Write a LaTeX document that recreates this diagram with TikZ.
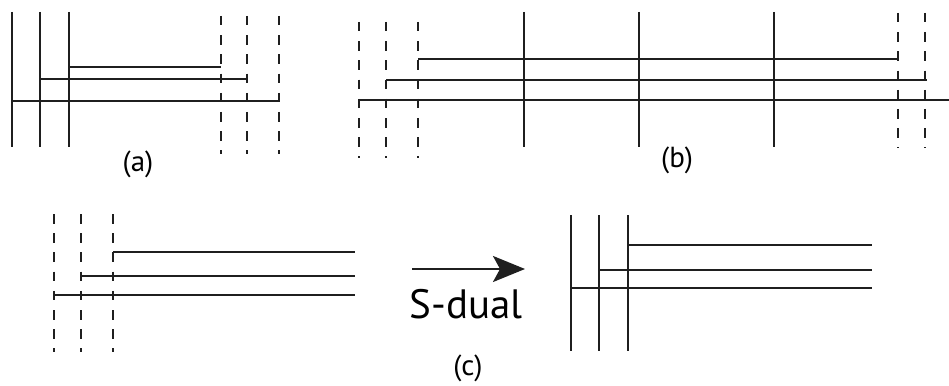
\documentclass[tikz,border=0pt]{standalone}
\usepackage{fontspec}
\setmainfont{PT Sans}
\usetikzlibrary{arrows.meta}
\begin{document}
\begin{tikzpicture}[x=1pt,y=-1pt,
  brane/.style={line width=2pt,black!88},
  dbrane/.style={line width=2pt,black!88,dash pattern=on 9.5pt off 9.7pt},
  lbl/.style={font=\fontsize{29}{32}\selectfont,inner sep=0pt}]
\useasboundingbox (0,0) rectangle (949,385);
% ---------- (a)
\foreach \x in {12,40,69} \draw[brane] (\x,12) -- (\x,147);
\foreach \x in {221,247,279} \draw[dbrane] (\x,16) -- (\x,154);
\draw[brane] (69,67) -- (221,67);
\draw[brane] (40,79) -- (247,79);
\draw[brane] (12,101) -- (279,101);
\node[lbl] (la) at (138,164) {(a)};
% ---------- (b)
\foreach \x in {359,386,418} \draw[dbrane] (\x,22) -- (\x,158);
\foreach \x in {524,639,774} \draw[brane] (\x,12) -- (\x,147);
\foreach \x in {898,925} \draw[dbrane] (\x,13) -- (\x,148);
\draw[brane] (418,59) -- (898,59);
\draw[brane] (386,80) -- (927,80);
\draw[brane] (359,100) -- (949,100);
\node[lbl] (lb) at (677,160) {(b)};
% ---------- (c) left
\foreach \x in {54,81,113} \draw[dbrane] (\x,214) -- (\x,352);
\draw[brane] (113,252) -- (355,252);
\draw[brane] (81,276) -- (355,276);
\draw[brane] (54,295) -- (355,295);
% ---------- (c) right
\foreach \x in {571,599,628} \draw[brane] (\x,215) -- (\x,351);
\draw[brane] (628,245) -- (872,245);
\draw[brane] (599,270) -- (872,270);
\draw[brane] (571,288) -- (872,288);
% ---------- arrow
\coordinate (as) at (412,269);
\coordinate (ae) at (525,269);
\draw[line width=2.3pt,black!88,-{Stealth[length=32pt,width=26pt,inset=7pt]}] (as) -- (ae);
\node[font=\fontsize{41}{44}\selectfont,inner sep=0pt,anchor=base] (sd) at (466,318) {S-dual};
\node[lbl] (lc) at (468,368) {(c)};
\end{tikzpicture}
\end{document}
